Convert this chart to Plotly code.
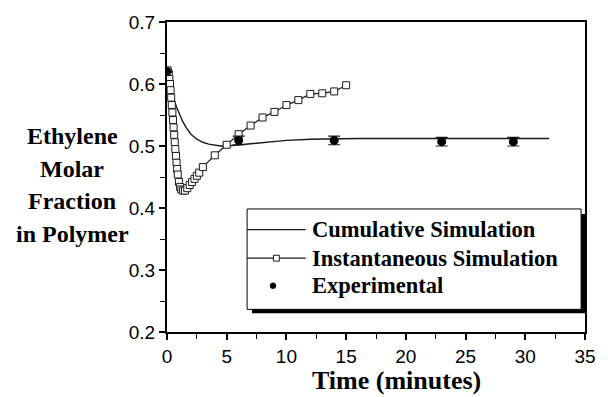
import plotly.graph_objects as go

# ---- data ----
cum_t = [0, 0.2, 0.4, 0.6, 0.8, 1.0, 1.3, 1.6, 2.0, 2.5, 3.0, 3.5, 4.0, 4.5, 5.0,
         6, 7, 8, 9, 10, 12, 14, 16, 20, 24, 28, 32]
cum_v = [0.620, 0.605, 0.588, 0.574, 0.563, 0.553, 0.540, 0.530, 0.519, 0.511, 0.506,
         0.503, 0.501, 0.500, 0.500, 0.502, 0.504, 0.506, 0.508, 0.509, 0.511, 0.512,
         0.512, 0.512, 0.512, 0.512, 0.512]

inst_t = [0.05, 0.1, 0.15, 0.2, 0.25, 0.3, 0.35, 0.4, 0.45, 0.5, 0.55, 0.6, 0.65, 0.7,
          0.75, 0.8, 0.85, 0.9, 1.0, 1.1, 1.2, 1.35, 1.5, 1.7, 1.9, 2.1, 2.3, 2.5, 2.7,
          3.0, 4.0, 5.0, 6.0, 7.0, 8.0, 9.0, 10.0, 11.0, 12.0, 13.0, 14.0, 15.0]
inst_v = [0.622, 0.618, 0.613, 0.608, 0.600, 0.590, 0.578, 0.566, 0.554, 0.542, 0.530,
          0.518, 0.506, 0.495, 0.484, 0.473, 0.463, 0.454, 0.442, 0.434, 0.430, 0.428,
          0.428, 0.432, 0.437, 0.442, 0.447, 0.452, 0.457, 0.466, 0.485, 0.502, 0.519,
          0.533, 0.546, 0.555, 0.566, 0.574, 0.584, 0.585, 0.588, 0.598]

exp_t = [0, 6, 14, 23, 29]
exp_v = [0.620, 0.509, 0.509, 0.507, 0.507]
exp_err = [0, 0.007, 0.007, 0.007, 0.007]

names = ["Cumulative Simulation", "Instantaneous Simulation", "Experimental"]
ytitle_lines = ["Ethylene", "Molar", "Fraction", "in Polymer"]
xtitle = "Time (minutes)"

# ---- geometry helpers (pixel -> paper) ----
W, H = 608, 397
L, R, T, B = 167, 595, 17, 332
def px(x):
    return (x - L) / (R - L)
def py(y):
    return (B - y) / (B - T)

serif = "Liberation Serif"
sans = "Liberation Sans"
ink = "#1a1a1a"

fig = go.Figure()
fig.add_trace(go.Scatter(x=cum_t, y=cum_v, mode="lines", name=names[0],
                         line=dict(color=ink, width=1.4)))
fig.add_trace(go.Scatter(x=inst_t, y=inst_v, mode="lines+markers", name=names[1],
                         line=dict(color=ink, width=1.2),
                         marker=dict(symbol="square", size=7, color="white",
                                     line=dict(color=ink, width=1))))
fig.add_trace(go.Scatter(x=exp_t, y=exp_v, mode="markers", name=names[2],
                         marker=dict(symbol="circle", size=9, color="black"),
                         error_y=dict(type="data", array=exp_err, color=ink,
                                      thickness=1.2, width=6)))

axis_common = dict(showline=True, linecolor="black", linewidth=2, mirror=True,
                   showgrid=False, zeroline=False, ticks="outside", ticklen=6,
                   tickwidth=1.5, tickcolor="black",
                   tickfont=dict(family=sans, size=19, color="black"))

fig.update_xaxes(range=[0, 35], dtick=5, tick0=0,
                 minor=dict(ticks="outside", ticklen=5, tickwidth=1.3,
                            tickcolor="black", dtick=2.5), **axis_common)
fig.update_yaxes(range=[0.2, 0.7], dtick=0.1, tick0=0.2, tickformat=".1f",
                 minor=dict(ticks="outside", ticklen=5, tickwidth=1.3,
                            tickcolor="black", dtick=0.05), **axis_common)

# ---- legend box with drop shadow (drawn by hand) ----
box_l, box_r, box_t, box_b = 249, 591, 207, 309
shapes = [
    dict(type="rect", xref="paper", yref="paper",
         x0=px(box_l + 5), x1=px(box_r + 5), y0=py(box_b + 4), y1=py(box_t + 5),
         fillcolor="black", line=dict(width=0), layer="above"),
    dict(type="rect", xref="paper", yref="paper",
         x0=px(box_l), x1=px(box_r), y0=py(box_b), y1=py(box_t),
         fillcolor="white", line=dict(color="black", width=1), layer="above"),
]
row_y = [228, 257, 285]
samp_l, samp_r, samp_c = 249, 309, 279
# line samples
for yy, w in zip(row_y[:2], [1.4, 1.2]):
    shapes.append(dict(type="line", xref="paper", yref="paper",
                       x0=px(samp_l), x1=px(samp_r), y0=py(yy), y1=py(yy),
                       line=dict(color=ink, width=w), layer="above"))
# square symbol
shapes.append(dict(type="rect", xref="paper", yref="paper",
                   x0=px(samp_c - 3), x1=px(samp_c + 3),
                   y0=py(row_y[1] + 3), y1=py(row_y[1] - 3),
                   fillcolor="white", line=dict(color=ink, width=1), layer="above"))
# dot symbol
shapes.append(dict(type="circle", xref="paper", yref="paper",
                   x0=px(samp_c - 6.5), x1=px(samp_c - 0.5),
                   y0=py(row_y[2] + 3), y1=py(row_y[2] - 3),
                   fillcolor="black", line=dict(color="black", width=0.5), layer="above"))

annotations = []
for name, yy in zip(names, row_y):
    annotations.append(dict(text=name, xref="paper", yref="paper", x=px(313), y=py(yy),
                            xanchor="left", yanchor="middle", showarrow=False,
                            font=dict(family=serif, size=22.5, color="black", weight=700)))
for txt, yc in zip(ytitle_lines, [133, 166, 199, 232]):
    annotations.append(dict(text=txt, xref="paper", yref="paper", x=px(70), y=py(yc),
                            xanchor="center", yanchor="middle", showarrow=False,
                            font=dict(family=serif, size=24, color="black", weight=700)))
annotations.append(dict(text=xtitle, xref="paper", yref="paper", x=px(402), y=py(381),
                        xanchor="center", yanchor="middle", showarrow=False,
                        font=dict(family=serif, size=26, color="black", weight=700)))

fig.update_layout(
    width=W, height=H,
    margin=dict(l=L, r=W - R, t=T, b=H - B),
    paper_bgcolor="white", plot_bgcolor="white",
    showlegend=False,
    shapes=shapes, annotations=annotations,
)

fig.write_html("out.html")
